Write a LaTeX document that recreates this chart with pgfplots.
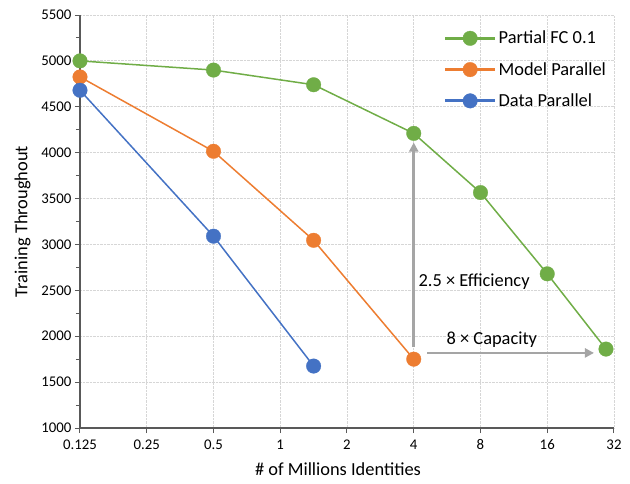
\documentclass[border=0pt]{standalone}
\usepackage{fontspec}
\setmainfont{Carlito}
\usepackage{pgfplots}
\pgfplotsset{compat=1.18}
\usetikzlibrary{arrows.meta}
\definecolor{cgreen}{HTML}{70AD47}
\definecolor{corange}{HTML}{ED7D31}
\definecolor{cblue}{HTML}{4472C4}
\definecolor{carrow}{HTML}{A5A5A5}
\definecolor{caxis}{HTML}{595959}
\definecolor{cgrid}{HTML}{D6D6D6}
\begin{document}
\begin{tikzpicture}
\useasboundingbox (-80pt,-55pt) rectangle (550pt,428pt);
\begin{axis}[
  at={(0,0)}, anchor=south west,
  scale only axis, width=534pt, height=413pt,
  xmin=-3, xmax=5, ymin=1000, ymax=5500,
  xtick={-3,-2,-1,0,1,2,3,4,5},
  xticklabels={0.125,0.25,0.5,1,2,4,8,16,32},
  ytick={1000,1500,2000,2500,3000,3500,4000,4500,5000,5500},
  minor y tick num=1,
  axis x line*=bottom, axis y line*=left,
  axis line style={draw=caxis, line width=1.2pt},
  tick align=outside,
  major tick length=5pt, minor tick length=4pt,
  every tick/.style={draw=caxis, line width=1pt},
  /pgf/number format/assume math mode=true,
  yticklabel style={/pgf/number format/1000 sep={}},
  ticklabel style={font=\fontsize{14.8}{17}\selectfont, text=black},
  xticklabel style={yshift=-3pt},
  grid=major,
  major grid style={densely dotted, draw=cgrid, line width=0.8pt},
  xlabel={\# of Millions Identities},
  ylabel={Training Throughout},
  label style={font=\fontsize{18.4}{21}\selectfont},
  xlabel style={yshift=-6pt, xshift=-9pt},
  ylabel style={yshift=4pt},
  legend style={at={(0.675,0.971)}, anchor=north west, draw=none, fill=none,
    font=\fontsize{18.4}{21}\selectfont, row sep=13pt,
    /tikz/every even column/.append style={column sep=4pt}},
  legend cell align=left,
  legend image code/.code={\draw[mark repeat=2,mark phase=2,#1, line width=3pt] plot coordinates {(0pt,0pt) (25pt,0pt) (50pt,0pt)};},
]
\draw[carrow, line width=2.5pt, -{Triangle[length=9pt,width=9pt]}] (axis cs:2,1880) -- (axis cs:2,4110);
\draw[carrow, line width=2.5pt, -{Triangle[length=9pt,width=9pt]}] (axis cs:2.2,1818) -- (axis cs:4.70,1818);
\node[anchor=west, font=\fontsize{18.4}{21}\selectfont] at (axis cs:2.02,2590) {2.5 × Efficiency};
\node[font=\fontsize{18.4}{21}\selectfont] at (axis cs:3.17,1960) {8 × Capacity};
\addplot[cgreen, line width=1.5pt, mark=*, mark size=7.3pt, mark options={fill=cgreen, draw=cgreen, line width=0.3pt}]
  coordinates {(-3,5000) (-1,4900) (0.5,4740) (2,4210) (3,3565) (4,2680) (4.88,1860)};
\addlegendentry{Partial FC 0.1}
\addplot[corange, line width=1.5pt, mark=*, mark size=7.3pt, mark options={fill=corange, draw=corange, line width=0.3pt}]
  coordinates {(-3,4825) (-1,4015) (0.5,3045) (2,1750)};
\addlegendentry{Model Parallel}
\addplot[cblue, line width=1.5pt, mark=*, mark size=7.3pt, mark options={fill=cblue, draw=cblue, line width=0.3pt}]
  coordinates {(-3,4680) (-1,3090) (0.5,1675)};
\addlegendentry{Data Parallel}
\end{axis}
\end{tikzpicture}
\end{document}
